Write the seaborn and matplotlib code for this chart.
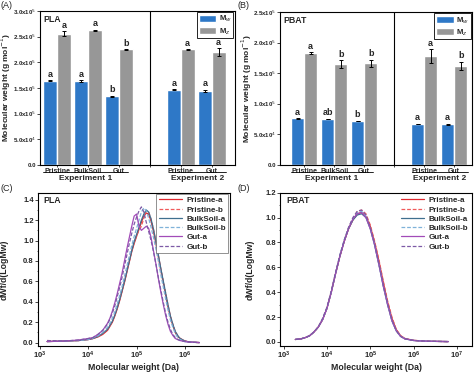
import numpy as np
import pandas as pd
import matplotlib
matplotlib.use("Agg")
import matplotlib.pyplot as plt
import seaborn as sns
from matplotlib.ticker import FuncFormatter, FixedLocator, NullLocator, MultipleLocator

sns.set_style("ticks")
plt.rcParams["font.family"] = ["Liberation Sans", "DejaVu Sans"]
plt.rcParams["mathtext.fontset"] = "dejavusans"

# ---- bar data (A: PLA, B: PBAT) ----
groups = ["Pristine", "BulkSoil", "Gut", "Pristine ", "Gut "]
order = ["Pristine", "BulkSoil", "Gut", "  ", "Pristine ", "Gut "]

pla_mw = [1.64e5, 1.63e5, 1.34e5, 1.47e5, 1.44e5]
pla_mw_err = [1.0e3, 2.0e3, 1.0e3, 1.0e3, 2.5e3]
pla_mz = [2.56e5, 2.62e5, 2.25e5, 2.25e5, 2.20e5]
pla_mz_err = [5.0e3, 1.5e3, 1.0e3, 1.0e3, 8.0e3]
pla_let_mw = ["a", "a", "b", "a", "a"]
pla_let_mz = ["a", "a", "b", "a", "a"]

pbat_mw = [7.6e4, 7.5e4, 7.2e4, 6.7e4, 6.65e4]
pbat_mw_err = [6e2, 6e2, 6e2, 6e2, 6e2]
pbat_mz = [1.83e5, 1.65e5, 1.66e5, 1.78e5, 1.62e5]
pbat_mz_err = [1.5e3, 6.0e3, 6.0e3, 1.1e4, 7.0e3]
pbat_let_mw = ["a", "ab", "b", "a", "a"]
pbat_let_mz = ["a", "b", "b", "a", "b"]

# ---- GPC curves (log10 Mw grid) ----
pla_logm = [3.15, 3.5, 3.8, 4.0, 4.1, 4.2, 4.3, 4.4, 4.45, 4.5, 4.55, 4.6, 4.65, 4.7,
            4.75, 4.8, 4.85, 4.9, 4.95, 5.0, 5.05, 5.1, 5.15, 5.2, 5.25, 5.3, 5.35,
            5.4, 5.45, 5.5, 5.55, 5.6, 5.65, 5.7, 5.75, 5.8, 5.85, 5.9, 6.0, 6.1, 6.3]
pla_pristine_a = [0.01, 0.015, 0.02, 0.03, 0.04, 0.055, 0.08, 0.12, 0.16, 0.20, 0.26, 0.33, 0.41, 0.50,
                  0.59, 0.69, 0.79, 0.89, 0.97, 1.04, 1.11, 1.18, 1.24, 1.27, 1.26, 1.19, 1.09,
                  0.97, 0.84, 0.71, 0.59, 0.47, 0.35, 0.25, 0.17, 0.10, 0.06, 0.04, 0.015, 0.005, 0.0]
pla_pristine_b = [0.02, 0.015, 0.02, 0.03, 0.04, 0.06, 0.09, 0.13, 0.17, 0.21, 0.27, 0.34, 0.42, 0.51,
                  0.60, 0.70, 0.80, 0.90, 0.98, 1.05, 1.10, 1.14, 1.22, 1.29, 1.28, 1.21, 1.11,
                  0.99, 0.86, 0.73, 0.61, 0.49, 0.37, 0.26, 0.18, 0.11, 0.07, 0.04, 0.015, 0.005, 0.0]
pla_bulk_a = [0.01, 0.015, 0.02, 0.03, 0.04, 0.06, 0.09, 0.13, 0.17, 0.21, 0.27, 0.34, 0.42, 0.51,
              0.60, 0.70, 0.80, 0.90, 0.99, 1.06, 1.13, 1.20, 1.26, 1.30, 1.28, 1.21, 1.11,
              0.99, 0.86, 0.73, 0.61, 0.49, 0.37, 0.26, 0.18, 0.11, 0.07, 0.04, 0.015, 0.005, 0.0]
pla_bulk_b = [0.01, 0.015, 0.02, 0.03, 0.045, 0.065, 0.10, 0.15, 0.19, 0.24, 0.30, 0.38, 0.46, 0.55,
              0.65, 0.75, 0.85, 0.95, 1.04, 1.12, 1.20, 1.28, 1.32, 1.29, 1.22, 1.13, 1.03,
              0.92, 0.80, 0.67, 0.55, 0.43, 0.32, 0.22, 0.15, 0.09, 0.05, 0.03, 0.01, 0.004, 0.0]
pla_gut_a = [0.01, 0.015, 0.025, 0.04, 0.05, 0.08, 0.12, 0.19, 0.24, 0.31, 0.39, 0.48, 0.58, 0.68,
             0.80, 0.92, 1.03, 1.14, 1.24, 1.26, 1.14, 1.10, 1.12, 1.14, 1.12, 1.03, 0.90,
             0.77, 0.63, 0.50, 0.38, 0.27, 0.18, 0.11, 0.07, 0.04, 0.03, 0.02, 0.01, 0.005, 0.0]
pla_gut_b = [0.02, 0.015, 0.025, 0.04, 0.05, 0.08, 0.12, 0.18, 0.23, 0.29, 0.36, 0.45, 0.54, 0.64,
             0.75, 0.86, 0.97, 1.07, 1.16, 1.23, 1.29, 1.33, 1.28, 1.18, 1.09, 1.00, 0.89,
             0.77, 0.64, 0.52, 0.40, 0.29, 0.20, 0.13, 0.08, 0.05, 0.03, 0.02, 0.01, 0.005, 0.0]

pbat_logm = [3.27, 3.4, 3.5, 3.6, 3.7, 3.8, 3.9, 4.0, 4.1, 4.2, 4.3, 4.4, 4.5, 4.6, 4.7,
             4.8, 4.9, 5.0, 5.1, 5.2, 5.3, 5.4, 5.5, 5.6, 5.7, 5.8, 6.0, 6.3, 6.8]
pbat_pristine_a = [0.02, 0.025, 0.035, 0.05, 0.08, 0.12, 0.18, 0.27, 0.40, 0.55, 0.69, 0.81, 0.91, 0.98, 1.03,
                   1.04, 1.01, 0.93, 0.80, 0.65, 0.48, 0.32, 0.19, 0.10, 0.05, 0.028, 0.013, 0.006, 0.003]
pbat_pristine_b = [0.02, 0.025, 0.035, 0.05, 0.08, 0.12, 0.18, 0.27, 0.40, 0.55, 0.69, 0.81, 0.92, 0.99, 1.05,
                   1.06, 1.03, 0.94, 0.81, 0.66, 0.49, 0.33, 0.20, 0.10, 0.05, 0.028, 0.013, 0.006, 0.003]
pbat_bulk_a = [0.02, 0.025, 0.035, 0.05, 0.08, 0.12, 0.18, 0.27, 0.40, 0.55, 0.69, 0.81, 0.91, 0.98, 1.02,
               1.03, 1.00, 0.91, 0.78, 0.62, 0.45, 0.30, 0.17, 0.09, 0.045, 0.025, 0.012, 0.006, 0.003]
pbat_bulk_b = [0.02, 0.025, 0.035, 0.05, 0.08, 0.12, 0.18, 0.27, 0.40, 0.55, 0.70, 0.82, 0.92, 0.99, 1.04,
               1.05, 1.01, 0.91, 0.78, 0.62, 0.45, 0.30, 0.17, 0.09, 0.045, 0.025, 0.012, 0.006, 0.003]
pbat_gut_a = [0.02, 0.025, 0.035, 0.05, 0.08, 0.12, 0.18, 0.27, 0.40, 0.55, 0.69, 0.81, 0.91, 0.99, 1.03,
              1.04, 1.00, 0.91, 0.78, 0.62, 0.45, 0.30, 0.17, 0.09, 0.045, 0.025, 0.012, 0.006, 0.003]
pbat_gut_b = [0.02, 0.025, 0.035, 0.05, 0.08, 0.12, 0.19, 0.28, 0.41, 0.56, 0.70, 0.82, 0.92, 1.00, 1.05,
              1.06, 1.02, 0.92, 0.79, 0.63, 0.46, 0.31, 0.18, 0.09, 0.045, 0.025, 0.012, 0.006, 0.003]

curve_names = ["Pristine-a", "Pristine-b", "BulkSoil-a", "BulkSoil-b", "Gut-a", "Gut-b"]
curve_colors = ["#e0282e", "#f05a5a", "#3f6f8f", "#7fb2d9", "#a24bb8", "#7d5aa6"]
curve_styles = ["-", (0, (3, 1.5)), "-", (0, (3, 1.5)), "-", (0, (3, 1.5))]

BLUE = "#2e78c7"
GRAY = "#979797"


def sci_fmt(v, pos):
    if abs(v) < 1e-9:
        return "0.0"
    if v < 0:
        return ""
    e = int(np.floor(np.log10(v)))
    return f"{v / 10**e:.1f}x10$^{{{e}}}$"


def style_axes(ax):
    for s in ax.spines.values():
        s.set_linewidth(0.8)
        s.set_color("black")
        s.set_visible(True)


def bar_panel(ax, mw, mw_err, mz, mz_err, let_mw, let_mz, ymax, ystep, xlim, tag, ex1, ex2, ylab_x):
    df = pd.DataFrame({
        "group": groups * 2,
        "metric": ["Mw"] * 5 + ["Mz"] * 5,
        "value": mw + mz,
        "err": mw_err + mz_err,
        "letter": let_mw + let_mz,
    })
    width = 0.88
    sns.barplot(data=df, x="group", y="value", hue="metric", order=order,
                hue_order=["Mw", "Mz"], palette=[BLUE, GRAY], width=width,
                errorbar=None, saturation=1, ax=ax)
    off = width / 4
    for _, r in df.iterrows():
        x = order.index(r["group"]) + (-off if r["metric"] == "Mw" else off)
        ax.errorbar(x, r["value"], yerr=r["err"], fmt="none", ecolor="black",
                    elinewidth=0.7, capsize=1.6, capthick=0.7)
        ax.annotate(r["letter"], (x, r["value"] + r["err"]), xytext=(0, 1.0),
                    textcoords="offset points", ha="center", va="bottom",
                    fontsize=6.5, fontweight="bold")
    ax.axvline(3, color="black", lw=0.8)
    ax.set_xlim(*xlim)
    ax.set_ylim(0, ymax)
    ax.yaxis.set_major_locator(MultipleLocator(ystep))
    ax.yaxis.set_major_formatter(FuncFormatter(sci_fmt))
    ax.set_xticks(range(len(order)))
    ax.set_xticklabels(["Pristine", "BulkSoil", "Gut", "", "Pristine", "Gut"])
    ax.tick_params(axis="y", direction="out", length=2, width=0.6, labelsize=4.4, pad=1)
    ax.tick_params(axis="x", direction="out", length=1.5, width=0.6, labelsize=5.0, pad=0.5)
    for t in ax.get_xticklabels():
        t.set_fontweight("bold")
    for t in ax.get_yticklabels():
        t.set_fontweight("bold")
    ax.set_xlabel("")
    ax.set_ylabel("Molecular weight (g mol$^{-1}$)", fontsize=6.0, fontweight="bold")
    ax.yaxis.set_label_coords(ylab_x, 0.5)
    tr = ax.get_xaxis_transform()
    ax.plot(ex1, [-0.045, -0.045], transform=tr, color="black", lw=0.6, clip_on=False)
    ax.plot(ex2, [-0.045, -0.045], transform=tr, color="black", lw=0.6, clip_on=False)
    ax.text(np.mean(ex1), -0.088, "Experiment 1", transform=tr, ha="center", va="center",
            fontsize=6.0, fontweight="bold")
    ax.text(np.mean(ex2), -0.088, "Experiment 2", transform=tr, ha="center", va="center",
            fontsize=6.0, fontweight="bold")
    ax.text(0.015, 0.975, tag, transform=ax.transAxes, ha="left", va="top",
            fontsize=6.3, fontweight="bold")
    h, _ = ax.get_legend_handles_labels()
    leg = ax.legend(h, ["M$_w$", "M$_z$"], loc="upper right", frameon=True, fancybox=False,
                    edgecolor="black", framealpha=1, handlelength=2.3, handleheight=0.9,
                    prop=dict(weight="bold", size=5.5), borderaxespad=0.2,
                    labelspacing=0.2, handletextpad=0.35, borderpad=0.2)
    leg.get_frame().set_linewidth(0.6)
    style_axes(ax)


def curve_panel(ax, logm, curves, xlim, ylim, xticks, tag, frame, ylab_x):
    mw = 10 ** np.array(logm)
    for name, vals, c, ls in zip(curve_names, curves, curve_colors, curve_styles):
        sns.lineplot(x=mw, y=vals, ax=ax, color=c, linestyle=ls, linewidth=0.9, label=name)
    ax.set_xscale("log")
    ax.set_xlim(10 ** xlim[0], 10 ** xlim[1])
    ax.set_ylim(*ylim)
    ax.xaxis.set_major_locator(FixedLocator([10.0 ** k for k in xticks]))
    ax.xaxis.set_minor_locator(NullLocator())
    ax.yaxis.set_major_locator(MultipleLocator(0.2))
    ax.yaxis.set_minor_locator(MultipleLocator(0.1))
    ax.yaxis.set_major_formatter(FuncFormatter(lambda v, p: f"{abs(v):.1f}" if v > -0.01 else ""))
    ax.tick_params(axis="both", which="major", direction="out", length=2, width=0.6,
                   labelsize=5.5, pad=1)
    ax.tick_params(axis="y", which="minor", direction="out", length=1, width=0.5)
    for t in ax.get_xticklabels() + ax.get_yticklabels():
        t.set_fontweight("bold")
    ax.set_xlabel("Molecular weight (Da)", fontsize=6.3, fontweight="bold", labelpad=1.5)
    ax.set_ylabel("dWf/d(LogMw)", fontsize=6.3, fontweight="bold")
    ax.yaxis.set_label_coords(ylab_x, 0.5)
    ax.text(0.03, 0.975, tag, transform=ax.transAxes, ha="left", va="top",
            fontsize=6.3, fontweight="bold")
    leg = ax.legend(loc="upper right", frameon=frame, fancybox=False, edgecolor="0.4",
                    framealpha=1, handlelength=2.9, prop=dict(weight="bold", size=5.8),
                    borderaxespad=0.2, labelspacing=0.2, handletextpad=0.5, borderpad=0.3)
    if frame:
        leg.get_frame().set_linewidth(0.5)
    style_axes(ax)


fig = plt.figure(figsize=(4.74, 3.74), dpi=100)
axA = fig.add_axes([0.0844, 0.5588, 0.411, 0.412])
axB = fig.add_axes([0.591, 0.559, 0.405, 0.409])
axC = fig.add_axes([0.080, 0.075, 0.405, 0.410])
axD = fig.add_axes([0.591, 0.075, 0.405, 0.410])

bar_panel(axA, pla_mw, pla_mw_err, pla_mz, pla_mz_err, pla_let_mw, pla_let_mz,
          3.0e5, 5e4, (-0.55, 5.74), "PLA", [-0.45, 2.3], [3.6, 5.45], -0.138)
bar_panel(axB, pbat_mw, pbat_mw_err, pbat_mz, pbat_mz_err, pbat_let_mw, pbat_let_mz,
          2.5e5, 5e4, (-0.8, 5.6), "PBAT", [-0.45, 2.3], [3.6, 5.45], -0.135)

curve_panel(axC, pla_logm,
            [pla_pristine_a, pla_pristine_b, pla_bulk_a, pla_bulk_b, pla_gut_a, pla_gut_b],
            (2.96, 6.93), (-0.033, 1.47), [3, 4, 5, 6], "PLA", True, -0.15)
curve_panel(axD, pbat_logm,
            [pbat_pristine_a, pbat_pristine_b, pbat_bulk_a, pbat_bulk_b, pbat_gut_a, pbat_gut_b],
            (2.92, 7.35), (-0.032, 1.2), [3, 4, 5, 6, 7], "PBAT", False, -0.135)

fig.text(0.002, 0.997, "(A)", ha="left", va="top", fontsize=6.5)
fig.text(0.502, 0.997, "(B)", ha="left", va="top", fontsize=6.5)
fig.text(0.002, 0.507, "(C)", ha="left", va="top", fontsize=6.5)
fig.text(0.502, 0.507, "(D)", ha="left", va="top", fontsize=6.5)

fig.savefig("out.png", dpi=100)
